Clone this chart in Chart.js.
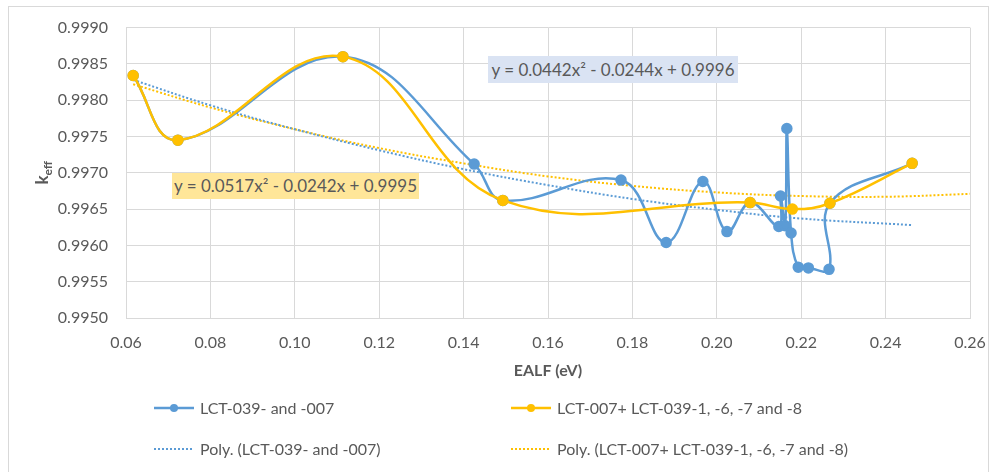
<!DOCTYPE html>
<html>
<head>
<meta charset="utf-8">
<script src="https://cdn.jsdelivr.net/npm/chart.js@4.4.0/dist/chart.umd.min.js"></script>
<style>
body { margin: 0; background: #fff; font-family: Lato, "Open Sans", sans-serif; }
#wrap { position: relative; width: 996px; height: 472px; overflow: hidden; }
#frame { position: absolute; left: 8px; top: 6px; width: 981px; height: 480px; border: 1px solid #d9d9d9; box-sizing: border-box; }
#chart { position: absolute; left: 0; top: 0; }
.eq { position: absolute; color: #595959; font-size: 17px; height: 27px; line-height: 27px; text-align: center; white-space: nowrap; }
.leg { position: absolute; color: #595959; font-size: 16px; white-space: nowrap; display: flex; align-items: center; }
.leg svg { margin-right: 6px; }
</style>
</head>
<body>
<div id="wrap">
  <div id="frame"></div>
  <canvas id="chart" width="996" height="472"></canvas>
  <div class="eq" style="left:488px;top:56px;width:250px;background:#dae3f3;">y = 0.0442x² - 0.0244x + 0.9996</div>
  <div class="eq" style="left:172px;top:173px;width:247px;height:26px;line-height:26px;background:#ffe699;">y = 0.0517x² - 0.0242x + 0.9995</div>
  <div class="leg" style="left:154px;top:398px;">
    <svg width="40" height="12"><line x1="0" y1="6" x2="40" y2="6" stroke="#5b9bd5" stroke-width="2.5"/><circle cx="20" cy="6" r="4" fill="#5b9bd5"/></svg>LCT-039- and -007</div>
  <div class="leg" style="left:511px;top:398px;">
    <svg width="40" height="12"><line x1="0" y1="6" x2="40" y2="6" stroke="#ffc000" stroke-width="2.5"/><circle cx="20" cy="6" r="4" fill="#ffc000"/></svg>LCT-007+ LCT-039-1, -6, -7 and -8</div>
  <div class="leg" style="left:154px;top:439px;">
    <svg width="40" height="12"><line x1="0" y1="6" x2="40" y2="6" stroke="#5b9bd5" stroke-width="2" stroke-dasharray="2 2"/></svg>Poly. (LCT-039- and -007)</div>
  <div class="leg" style="left:511px;top:439px;">
    <svg width="40" height="12"><line x1="0" y1="6" x2="40" y2="6" stroke="#ffc000" stroke-width="2" stroke-dasharray="2 2"/></svg>Poly. (LCT-007+ LCT-039-1, -6, -7 and -8)</div>
</div>
<script>
const blueX = [0.0617, 0.0723, 0.1114, 0.1425, 0.1493, 0.1773, 0.1880, 0.1967, 0.2024, 0.2079,
               0.2147, 0.2151, 0.2162, 0.2166, 0.2176, 0.2193, 0.2217, 0.2266, 0.2268, 0.2463];
const blueY = [0.99834, 0.99745, 0.99860, 0.99712, 0.99662, 0.99690, 0.99604, 0.99688, 0.99619, 0.99659,
               0.99626, 0.99668, 0.99627, 0.99761, 0.99617, 0.99570, 0.99569, 0.99567, 0.99658, 0.99713];
const yellowX = [0.0617, 0.0723, 0.1114, 0.1493, 0.2079, 0.2179, 0.2268, 0.2463];
const yellowY = [0.99834, 0.99745, 0.99860, 0.99662, 0.99659, 0.99650, 0.99658, 0.99713];
const bluePolyX = [0.0617, 0.08, 0.10, 0.12, 0.14, 0.16, 0.18, 0.20, 0.22, 0.2463];
const bluePolyY = [0.99828, 0.99793, 0.99760, 0.99731, 0.99705, 0.99683, 0.99664, 0.99649, 0.99637, 0.99628];
const yellowPolyX = [0.0617, 0.08, 0.10, 0.12, 0.14, 0.16, 0.18, 0.20, 0.22, 0.24, 0.26];
const yellowPolyY = [0.99822, 0.99790, 0.99760, 0.99734, 0.99713, 0.99695, 0.99682, 0.99673, 0.99668, 0.99667, 0.99671];

const BLUE = '#5b9bd5';
const YELLOW = '#ffc000';
const GRID = '#d9d9d9';
const TEXT = '#595959';

function points(xs, ys) {
    return xs.map((x, i) => ({x: x, y: ys[i]}));
}

// k_eff title with subscript, drawn rotated left of the y axis
const yTitle = {
    id: 'yTitle',
    afterDraw(chart) {
        const ctx = chart.ctx;
        const area = chart.chartArea;
        ctx.save();
        ctx.translate(48, (area.top + area.bottom) / 2);
        ctx.rotate(-Math.PI / 2);
        ctx.fillStyle = TEXT;
        ctx.textBaseline = 'alphabetic';
        ctx.font = 'bold 17px Lato, sans-serif';
        const kw = ctx.measureText('k').width;
        ctx.font = 'bold 12px Lato, sans-serif';
        const ew = ctx.measureText('eff').width;
        const start = -(kw + ew) / 2;
        ctx.font = 'bold 17px Lato, sans-serif';
        ctx.fillText('k', start, 0);
        ctx.font = 'bold 12px Lato, sans-serif';
        ctx.fillText('eff', start + kw, 4);
        ctx.restore();
    }
};

new Chart(document.getElementById('chart'), {
    type: 'line',
    data: {
        datasets: [
            {
                label: 'LCT-039- and -007',
                data: points(blueX, blueY),
                borderColor: BLUE,
                backgroundColor: BLUE,
                borderWidth: 2.5,
                pointRadius: 4.5,
                tension: 0.4,
                order: 1
            },
            {
                label: 'LCT-007+ LCT-039-1, -6, -7 and -8',
                data: points(yellowX, yellowY),
                borderColor: YELLOW,
                backgroundColor: YELLOW,
                borderWidth: 2.5,
                pointRadius: 4.5,
                tension: 0.4,
                order: 0
            },
            {
                label: 'Poly. (LCT-039- and -007)',
                data: points(bluePolyX, bluePolyY),
                borderColor: BLUE,
                borderWidth: 2,
                borderDash: [2, 2],
                pointRadius: 0,
                tension: 0.4,
                order: 2
            },
            {
                label: 'Poly. (LCT-007+ LCT-039-1, -6, -7 and -8)',
                data: points(yellowPolyX, yellowPolyY),
                borderColor: YELLOW,
                borderWidth: 2,
                borderDash: [2, 2],
                pointRadius: 0,
                tension: 0.4,
                order: 3
            }
        ]
    },
    options: {
        responsive: false,
        animation: false,
        layout: { padding: { left: 0, top: 26, right: 26, bottom: 92 } },
        plugins: { legend: { display: false }, tooltip: { enabled: false } },
        scales: {
            x: {
                type: 'linear',
                min: 0.06,
                max: 0.26,
                afterFit(scale) {
                    scale.height = 62;
                    scale.paddingLeft = 0;
                    scale.paddingRight = 16;
                },
                grid: { color: GRID, drawTicks: false },
                border: { color: GRID },
                ticks: {
                    stepSize: 0.02,
                    padding: 15,
                    color: TEXT,
                    font: { family: 'Lato', size: 16 },
                    callback: v => v.toFixed(2)
                },
                title: {
                    display: true,
                    text: 'EALF (eV)',
                    color: TEXT,
                    padding: 0,
                    font: { family: 'Lato', size: 16, weight: 'bold' }
                }
            },
            y: {
                min: 0.995,
                max: 0.999,
                afterFit(scale) { scale.width = 126; },
                grid: { color: GRID, drawTicks: false },
                border: { color: GRID },
                ticks: {
                    stepSize: 0.0005,
                    padding: 18,
                    color: TEXT,
                    font: { family: 'Lato', size: 16 },
                    callback: v => v.toFixed(4)
                }
            }
        }
    },
    plugins: [yTitle]
});
</script>
</body>
</html>
